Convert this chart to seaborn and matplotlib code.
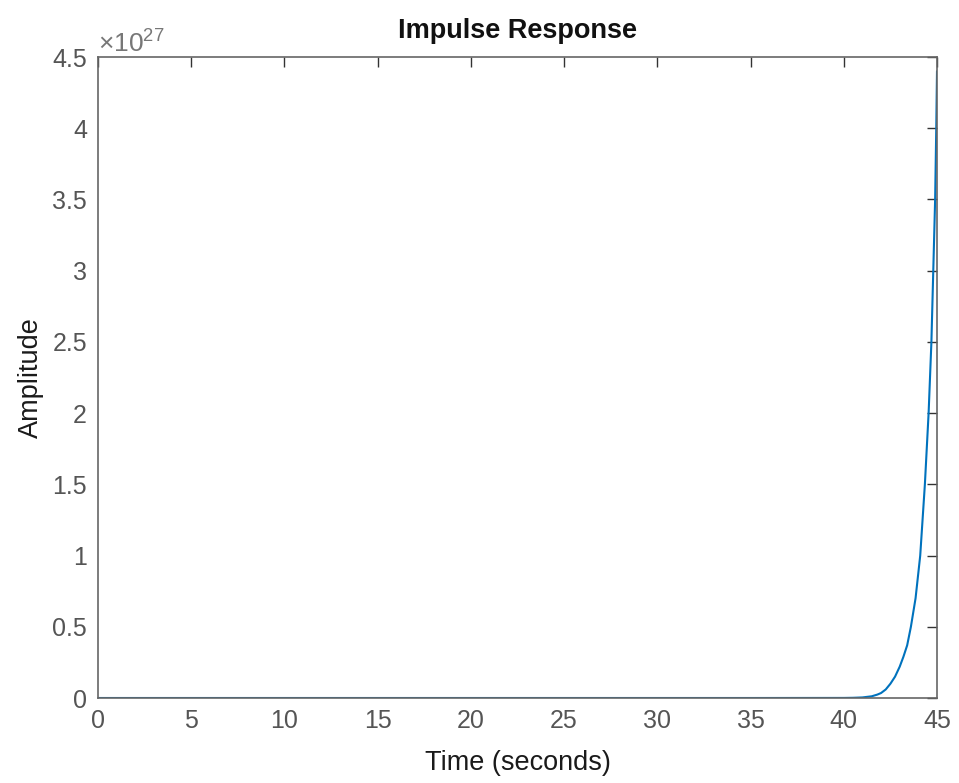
import numpy as np
import matplotlib
matplotlib.use("Agg")
import matplotlib.pyplot as plt
import seaborn as sns
from matplotlib.ticker import ScalarFormatter

# Values (amplitude in units of 1e27)
time_s = [0, 5, 10, 15, 20, 25, 30, 35, 40, 40.5, 41.0, 41.5, 41.8, 42.0, 42.25,
          42.5, 42.75, 43.0, 43.2, 43.4, 43.6, 43.85, 44.1, 44.35, 44.55, 44.7,
          44.8, 44.9, 44.96, 45.0]
amp_e27 = [0, 0, 0, 0, 0, 0, 0, 0, 0.0005, 0.0015, 0.004, 0.012, 0.024, 0.035, 0.06,
           0.10, 0.15, 0.22, 0.29, 0.37, 0.50, 0.70, 1.0, 1.5, 2.0, 2.5,
           3.0, 3.5, 4.0, 4.4]
x_ticks = [0, 5, 10, 15, 20, 25, 30, 35, 40, 45]
y_ticks = [0, 0.5, 1, 1.5, 2, 2.5, 3, 3.5, 4, 4.5]

sns.set_theme(style="white")
plt.rcParams['font.family'] = ['Liberation Sans', 'DejaVu Sans']
plt.rcParams['mathtext.default'] = 'regular'

fig = plt.figure(figsize=(9.59, 7.83), dpi=100)
fig.patch.set_facecolor('white')
ax = fig.add_axes([98 / 959, 1 - 698 / 783, (937 - 98) / 959, (698 - 57) / 783])

amp = np.array(amp_e27) * 1e27
sns.lineplot(x=time_s, y=amp, ax=ax, color='#0072BD', linewidth=1.5)

ax.set_xlim(0, 45)
ax.set_ylim(0, 4.5e27)
ax.set_xticks(x_ticks)
ax.set_yticks(np.array(y_ticks) * 1e27)


class MatlabFormatter(ScalarFormatter):
    def _set_format(self):
        self.format = '%g'


fmt = MatlabFormatter(useMathText=True)
fmt.set_powerlimits((0, 0))
ax.yaxis.set_major_formatter(fmt)
ax.xaxis.set_major_formatter(matplotlib.ticker.FuncFormatter(lambda v, p: f"{v:g}"))

tick_col = '#555555'
ax.tick_params(axis='both', which='major', direction='in', length=7, width=1,
               colors='#333333', labelcolor=tick_col, labelsize=18,
               top=True, right=True, pad=8)
off = ax.yaxis.get_offset_text()
off.set_fontsize(19)
off.set_color('#777777')
for s in ax.spines.values():
    s.set_color('#666666')
    s.set_linewidth(1.2)

ax.set_title('Impulse Response', fontsize=19.5, fontweight='bold', color='#111111', pad=14)
ax.set_xlabel('Time (seconds)', fontsize=19.5, color='#1a1a1a', labelpad=12)
ax.set_ylabel('Amplitude', fontsize=19.5, color='#1a1a1a', labelpad=6)

fig.savefig('out.png', dpi=100, facecolor='white')
